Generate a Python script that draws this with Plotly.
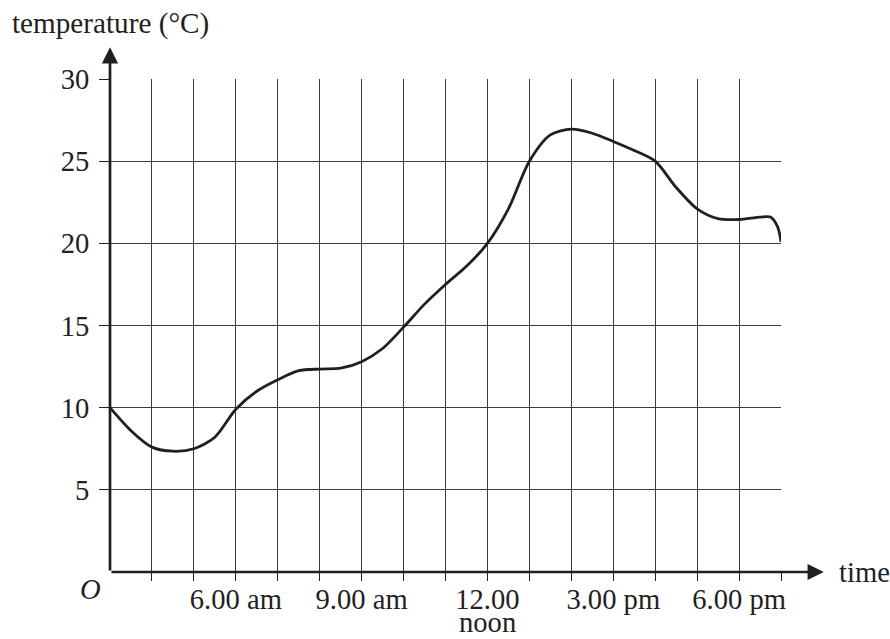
import plotly.graph_objects as go

# time in hours of the day (3 = 3.00 am ... 19 = 7.00 pm)
hours = [3.0, 3.5, 4.0, 4.5, 5.0, 5.5, 6.0, 6.5, 7.0, 7.5, 8.0, 8.5, 9.0, 9.5,
         10.0, 10.5, 11.0, 11.5, 12.0, 12.5, 13.0, 13.5, 14.0, 14.5, 15.0, 15.5,
         16.0, 16.5, 17.0, 17.5, 18.0, 18.5, 18.75, 18.92, 19.0]
temperature = [10.0, 8.6, 7.6, 7.35, 7.5, 8.2, 9.9, 11.0, 11.7, 12.25, 12.35, 12.4,
               12.8, 13.6, 14.9, 16.3, 17.5, 18.6, 20.0, 22.1, 25.0, 26.6, 26.95,
               26.7, 26.2, 25.65, 25.0, 23.4, 22.1, 21.5, 21.45, 21.6, 21.6, 21.0, 20.1]

x_tickvals = list(range(4, 20))
x_ticktext = ["", "", "6.00 am", "", "", "9.00 am", "", "", "12.00", "",
              "", "3.00 pm", "", "", "6.00 pm", ""]
noon_label = "noon"
y_tickvals = [5, 10, 15, 20, 25, 30]
y_ticktext = ["5", "10", "15", "20", "25", "30"]

FONT = "Liberation Serif"
FS = 28.6
INK = "#231f20"
GRID = "#3c3c3c"

fig = go.Figure()
fig.add_trace(go.Scatter(
    x=hours, y=temperature, mode="lines",
    line=dict(color=INK, width=2.8, shape="spline", smoothing=0.8),
    showlegend=False, hoverinfo="skip", cliponaxis=False,
))

fig.update_layout(
    width=890, height=639,
    margin=dict(l=110, r=109, t=79, b=67),
    paper_bgcolor="white", plot_bgcolor="white",
    font=dict(family=FONT, size=FS, color=INK),
    showlegend=False,
    xaxis=dict(
        range=[3, 19], tickmode="array", tickvals=x_tickvals, ticktext=x_ticktext,
        showgrid=True, gridcolor=GRID, gridwidth=1.2,
        ticks="outside", ticklen=8, tickwidth=1.2, tickcolor=INK,
        showline=False, zeroline=False, fixedrange=True, automargin=False,
        tickfont=dict(family=FONT, size=FS, color=INK),
        ticklabelstandoff=-6,
    ),
    yaxis=dict(
        range=[0, 30], tickmode="array", tickvals=y_tickvals, ticktext=y_ticktext,
        showgrid=True, gridcolor=GRID, gridwidth=1.2,
        ticks="outside", ticklen=10, tickwidth=1.2, tickcolor=INK,
        showline=False, zeroline=False, fixedrange=True, automargin=False,
        tickfont=dict(family=FONT, size=FS, color=INK),
        ticklabelstandoff=4,
    ),
)

# axes drawn as arrows
fig.add_annotation(x=3, y=31.93, ax=3, ay=0, xref="x", yref="y", axref="x", ayref="y",
                   text="", showarrow=True, arrowhead=2, arrowwidth=2.7, arrowsize=1.2,
                   arrowcolor=INK, standoff=0, startstandoff=0)
fig.add_annotation(x=20.02, y=0, ax=3, ay=0, xref="x", yref="y", axref="x", ayref="y",
                   text="", showarrow=True, arrowhead=2, arrowwidth=2.7, arrowsize=1.2,
                   arrowcolor=INK, standoff=0, startstandoff=0)

fig.add_annotation(x=-0.149, y=1.113, xref="paper", yref="paper", text="temperature (°C)",
                   showarrow=False, xanchor="left", yanchor="middle",
                   font=dict(family=FONT, size=29.2, color=INK))
fig.add_annotation(x=1.0834, y=0, xref="paper", yref="paper", text="time",
                   showarrow=False, xanchor="left", yanchor="middle",
                   font=dict(family=FONT, size=FS, color=INK))
fig.add_annotation(x=-0.0298, y=-0.0365, xref="paper", yref="paper", text="<i>O</i>",
                   showarrow=False, xanchor="center", yanchor="middle",
                   font=dict(family=FONT, size=FS, color=INK))
fig.add_annotation(x=12, y=-0.1359, xref="x", yref="paper", text=noon_label,
                   showarrow=False, xanchor="center", yanchor="bottom", borderpad=0,
                   font=dict(family=FONT, size=FS, color=INK))

fig.write_html(
    "out.html",
    config={"displayModeBar": False},
    post_script="document.body.style.margin='0';document.body.style.overflow='hidden';",
)
